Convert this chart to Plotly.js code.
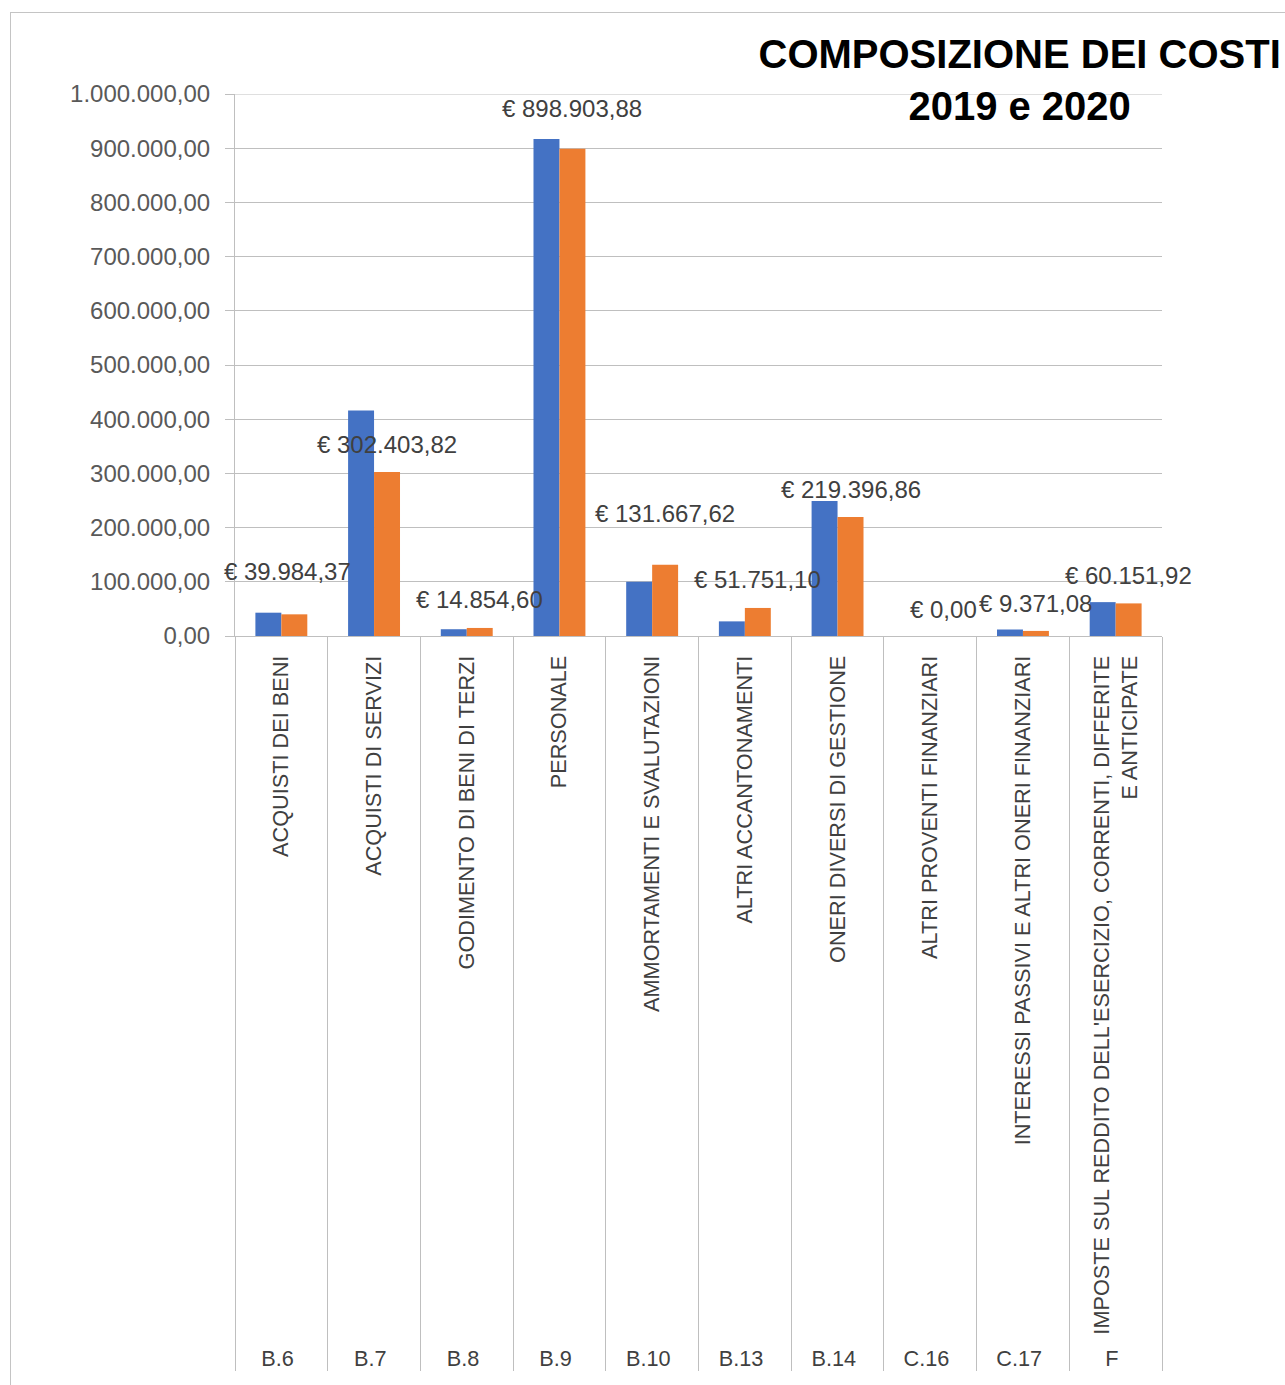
<!DOCTYPE html>
<html><head><meta charset="utf-8">
<script src="https://cdn.plot.ly/plotly-3.0.1.min.js"></script>
<style>
html,body{margin:0;padding:0;background:#fff;}
#chart{position:absolute;left:0;top:0;width:1285px;height:1385px;}
#frame{position:absolute;left:10px;top:12px;width:1300px;height:1400px;border:1px solid #C4C4C4;pointer-events:none;}
</style>
</head><body>
<div id="chart"></div><div id="frame"></div>
<script>
const codes = ["B.6","B.7","B.8","B.9","B.10","B.13","B.14","C.16","C.17","F"];
const names = ["ACQUISTI DEI BENI","ACQUISTI DI SERVIZI","GODIMENTO DI BENI DI TERZI","PERSONALE","AMMORTAMENTI E SVALUTAZIONI","ALTRI ACCANTONAMENTI","ONERI DIVERSI DI GESTIONE","ALTRI PROVENTI FINANZIARI","INTERESSI PASSIVI E ALTRI ONERI FINANZIARI","IMPOSTE SUL REDDITO DELL'ESERCIZIO, CORRENTI, DIFFERITE<br>E ANTICIPATE"];
const costs2019 = [43000, 416000, 12500, 917000, 100000, 27000, 249000, 0, 12000, 62500];
const costs2020 = [39984.37, 302403.82, 14854.60, 898903.88, 131667.62, 51751.10, 219396.86, 0, 9371.08, 60151.92];
const seriesNames = ["2019", "2020"];
const titleText = "COMPOSIZIONE DEI COSTI<br>2019 e 2020";
const yMax = 1000000;
const yStep = 100000;

// label styling (pixel offsets above the 2020 bars)
const labelLift = [43, 28, 28, 40, 51, 28, 28, 27, 27, 28];
const labelNudge = [6, 13, 13, 13, 13, 13, 13, 13, 13, 13];

function fmtEuro(v) {
  const parts = v.toFixed(2).split(".");
  const intPart = parts[0].replace(/\B(?=(\d{3})+(?!\d))/g, ".");
  return "€ " + intPart + "," + parts[1];
}

const xCats = [codes, names];

const traces = [
  {type:"bar", name:seriesNames[0], x:xCats, y:costs2019, marker:{color:"#4472C4"}, hoverinfo:"y"},
  {type:"bar", name:seriesNames[1], x:xCats, y:costs2020, marker:{color:"#ED7D31"}, hoverinfo:"y"}
];

const annotations = costs2020.map((v, i) => ({
  x: i, y: v, xref: "x", yref: "y",
  text: fmtEuro(v), showarrow: false,
  xshift: labelNudge[i], yshift: labelLift[i], yanchor: "middle", xanchor: "center",
  font: {size: 24, color: "#404040"}
}));

const layout = {
  width: 1285, height: 1385,
  margin: {l: 235, r: 123, t: 94, b: 749, pad: 0},
  paper_bgcolor: "rgba(0,0,0,0)", plot_bgcolor: "rgba(0,0,0,0)",
  separators: ",.",
  showlegend: false,
  barmode: "group", bargap: 0.44, bargroupgap: 0,
  font: {family: "Liberation Sans, Arial, sans-serif", color: "#595959"},
  title: {
    text: titleText,
    font: {size: 40, color: "#000000", weight: 700},
    x: 0.7935, xref: "container", xanchor: "center",
    y: 0.951, yref: "container", yanchor: "top"
  },
  xaxis: {
    type: "multicategory", range: [-0.5, codes.length - 0.5],
    showline: true, linecolor: "#BFBFBF", linewidth: 1,
    ticks: "", showdividers: true, dividercolor: "#BFBFBF", dividerwidth: 1,
    tickangle: -90, tickfont: {size: 21.7, color: "#404040"},
    ticklabelstandoff: 10,
    automargin: false, showgrid: false, zeroline: false
  },
  yaxis: {
    range: [0, yMax], dtick: yStep, tickformat: ",.2f",
    showgrid: true, gridcolor: "#BFBFBF", gridwidth: 1,
    showline: true, linecolor: "#BFBFBF",
    ticks: "outside", ticklen: 9, tickcolor: "#BFBFBF",
    tickfont: {size: 24, color: "#595959"},
    ticklabelstandoff: 10,
    automargin: false, zeroline: false
  },
  shapes: [
    {type: "line", layer: "below", xref: "paper", x0: 0, x1: 1, yref: "y", y0: yMax, y1: yMax,
     line: {color: "#BFBFBF", width: 1}}
  ],
  annotations: annotations
};

Plotly.newPlot("chart", traces, layout, {displayModeBar: false, responsive: false});
</script>
</body></html>
